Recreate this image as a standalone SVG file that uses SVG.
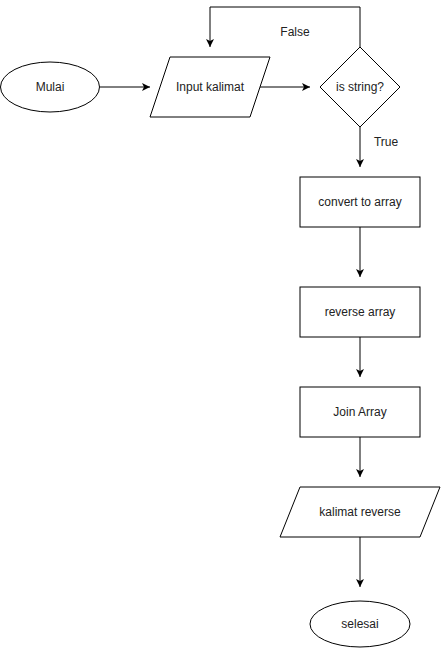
<svg xmlns="http://www.w3.org/2000/svg" width="441" height="648" viewBox="0 0 441 648">
<defs>
<style>
.s{fill:#fff;stroke:#000;stroke-width:1}
.e{fill:none;stroke:#000;stroke-width:1}
text{font-family:"Liberation Sans",Arial,sans-serif;font-size:12px;fill:#222;text-anchor:middle}
</style>
<marker id="a" markerWidth="10" markerHeight="10" refX="8" refY="4" orient="auto" markerUnits="userSpaceOnUse">
<path d="M0,0 L8,4 L0,8 L2,4 Z" fill="#000"/>
</marker>
</defs>
<rect width="441" height="648" fill="#fff"/>
<g id="connectors">
<path class="e" d="M100,87 H150" marker-end="url(#a)"/>
<path class="e" d="M260,87 H310" marker-end="url(#a)"/>
<path class="e" d="M360,47 V7 H210 V47" marker-end="url(#a)"/>
<path class="e" d="M360,127 V167" marker-end="url(#a)"/>
<path class="e" d="M360,227 V277" marker-end="url(#a)"/>
<path class="e" d="M360,337 V377" marker-end="url(#a)"/>
<path class="e" d="M360,437 V477" marker-end="url(#a)"/>
<path class="e" d="M360,537 V587" marker-end="url(#a)"/>
<text x="295" y="36">False</text>
<text x="386" y="146">True</text>
</g>
<g id="mulai">
<ellipse class="s" cx="50" cy="87" rx="49.5" ry="25"/>
<text x="50" y="91">Mulai</text>
</g>
<g id="input">
<polygon class="s" points="170,57 270,57 250,117 150,117"/>
<text x="210" y="91">Input kalimat</text>
</g>
<g id="decision">
<polygon class="s" points="360,47 400,87 360,127 320,87"/>
<text x="360" y="91">is string?</text>
</g>
<g id="convert">
<rect class="s" x="300" y="177" width="120" height="50"/>
<text x="360" y="206">convert to array</text>
</g>
<g id="reverse">
<rect class="s" x="300" y="287" width="120" height="50"/>
<text x="360" y="316">reverse array</text>
</g>
<g id="join">
<rect class="s" x="300" y="387" width="120" height="50"/>
<text x="360" y="416">Join Array</text>
</g>
<g id="output">
<polygon class="s" points="300,487 440,487 420,537 280,537"/>
<text x="360" y="516">kalimat reverse</text>
</g>
<g id="selesai">
<ellipse class="s" cx="360" cy="624" rx="50" ry="23"/>
<text x="360" y="628">selesai</text>
</g>
</svg>
